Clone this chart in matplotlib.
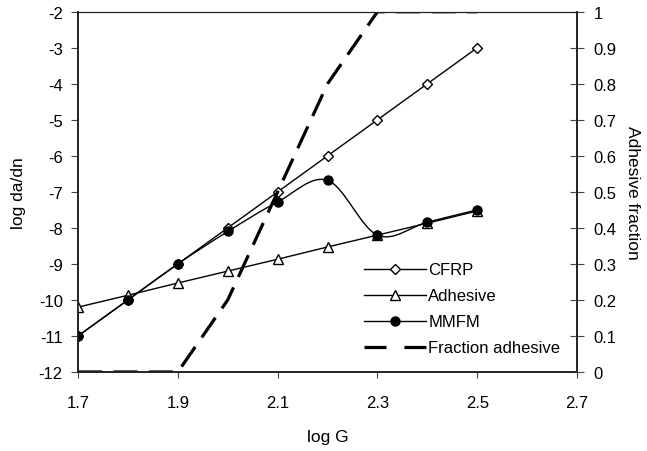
import matplotlib
matplotlib.use("Agg")
import matplotlib.pyplot as plt
from matplotlib.path import Path
from matplotlib.patches import PathPatch
from matplotlib.lines import Line2D

plt.rcParams["font.family"] = ["Liberation Sans", "DejaVu Sans"]
plt.rcParams["axes.unicode_minus"] = False

log_g = [1.7, 1.8, 1.9, 2.0, 2.1, 2.2, 2.3, 2.4, 2.5]
cfrp = [-11, -10, -9, -8, -7, -6, -5, -4, -3]
adhesive = [-10.2, -9.87, -9.53, -9.2, -8.87, -8.53, -8.2, -7.87, -7.53]
mmfm = [-11, -10, -9, -8.1, -7.28, -6.68, -8.2, -7.84, -7.5]
fraction = [0, 0, 0, 0.2, 0.5, 0.8, 1.0, 1.0, 1.0]

DASH = (7.5, 3.6)


def smooth_path(xs, ys):
    # Excel-style smoothed line: cubic Bezier through every point
    verts = [(xs[0], ys[0])]
    codes = [Path.MOVETO]
    n = len(xs)
    for i in range(n - 1):
        x0, y0 = xs[max(i - 1, 0)], ys[max(i - 1, 0)]
        x1, y1 = xs[i], ys[i]
        x2, y2 = xs[i + 1], ys[i + 1]
        x3, y3 = xs[min(i + 2, n - 1)], ys[min(i + 2, n - 1)]
        c1 = (x1 + (x2 - x0) / 6, y1 + (y2 - y0) / 6)
        c2 = (x2 - (x3 - x1) / 6, y2 - (y3 - y1) / 6)
        verts += [c1, c2, (x2, y2)]
        codes += [Path.CURVE4] * 3
    return Path(verts, codes)


fig = plt.figure(figsize=(6.47, 4.52), dpi=100)
ax = fig.add_axes([0.1206, 0.1748, 0.7713, 0.797])
ax2 = ax.twinx()

ax.plot(log_g, cfrp, color="black", lw=1, marker="D", ms=5.5, mfc="white", mec="black", mew=1, zorder=3)
ax.plot(log_g, adhesive, color="black", lw=1, marker="^", ms=7.5, mfc="white", mec="black", mew=1, zorder=3)
ax.add_patch(PathPatch(smooth_path(log_g, mmfm), facecolor="none", edgecolor="black", lw=1, zorder=3))
ax.plot(log_g, mmfm, ls="none", marker="o", ms=6.5, color="black", zorder=4)
ax2.plot(log_g, fraction, color="black", lw=2.3, dashes=DASH)

ax.set_xlim(1.7, 2.7)
ax.set_ylim(-12, -2)
ax2.set_ylim(0, 1)
ax.set_xticks([1.7, 1.9, 2.1, 2.3, 2.5, 2.7])
ax.set_yticks(range(-12, -1))
ax2.set_yticks([i / 10 for i in range(11)])
ax2.set_yticklabels(["0"] + [f"{i / 10:.1f}" for i in range(1, 10)] + ["1"])

for a in (ax, ax2):
    for s in a.spines.values():
        s.set_linewidth(1.2)
        s.set_color("#222222")
    a.spines["top"].set_linewidth(0.8)
ax.tick_params(axis="y", direction="out", length=5, width=0.8, pad=6, labelsize=12, color="#444444")
ax.tick_params(axis="x", direction="out", length=4.5, width=0.8, pad=12, labelsize=12, color="#444444")
ax2.tick_params(axis="y", direction="inout", length=9.5, width=0.8, pad=7, labelsize=12, color="#444444")

ax.set_xlabel("log G", fontsize=12.5, labelpad=14)
ax.set_ylabel("log da/dn", fontsize=12.5, labelpad=9)
ax2.set_ylabel("Adhesive fraction", fontsize=12.5, rotation=270, labelpad=17)

handles = [
    Line2D([], [], color="black", lw=1, marker="D", ms=5.5, mfc="white", mec="black"),
    Line2D([], [], color="black", lw=1, marker="^", ms=7.5, mfc="white", mec="black"),
    Line2D([], [], color="black", lw=1, marker="o", ms=6.5),
    Line2D([], [], color="black", lw=2.3, dashes=(6.9, 5.6)),
]
ax.legend(handles, ["CFRP", "Adhesive", "MMFM", "Fraction adhesive"],
          loc="upper left", bbox_to_anchor=(0.573, 0.304), frameon=False, fontsize=12,
          borderaxespad=0, borderpad=0, handlelength=3.7, labelspacing=0.66, handletextpad=0.15)

fig.savefig("out.png", dpi=100, facecolor="white")
